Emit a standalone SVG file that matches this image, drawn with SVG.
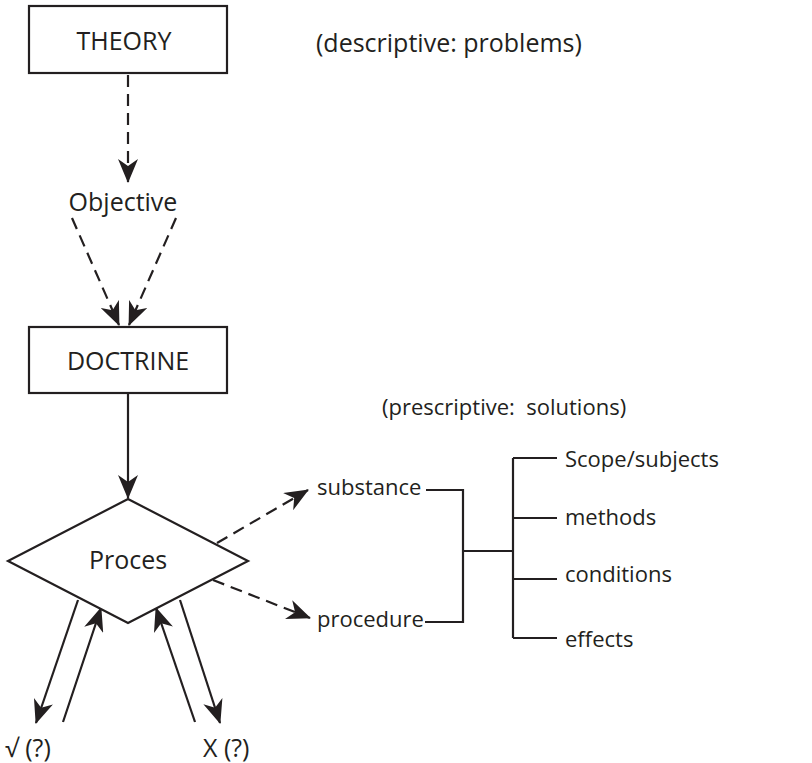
<svg xmlns="http://www.w3.org/2000/svg" width="812" height="763" viewBox="0 0 812 763">
<style>
text{font-family:"Open Sans","Noto Sans","DejaVu Sans",sans-serif;fill:#231f20;font-size:22px}
.big{font-size:25px}
.box{fill:#fff;stroke:#231f20;stroke-width:2.2}
.ln{fill:none;stroke:#231f20;stroke-width:2.2}
.dash{stroke-dasharray:12 7}
.arr{marker-end:url(#ah)}
</style>
<defs>
<marker id="ah" viewBox="0 0 24 20" refX="23" refY="10" markerWidth="24" markerHeight="20" markerUnits="userSpaceOnUse" orient="auto">
<path d="M0,0 L24,10 L0,20 L7,10 Z" fill="#231f20"/>
</marker>
</defs>
<rect width="812" height="763" fill="#fff"/>
<g id="connectors">
<line class="ln dash arr" x1="128" y1="75" x2="128" y2="182"/>
<line class="ln dash arr" x1="72" y1="218" x2="119" y2="325"/>
<line class="ln dash arr" x1="176" y1="218" x2="129" y2="325"/>
<line class="ln arr" x1="128" y1="393" x2="128" y2="498"/>
<line class="ln dash arr" x1="217" y1="543" x2="308" y2="490"/>
<line class="ln dash arr" x1="213" y1="580" x2="310" y2="618"/>
<line class="ln arr" x1="78" y1="600" x2="36" y2="723"/>
<line class="ln arr" x1="63" y1="722" x2="101" y2="608"/>
<line class="ln arr" x1="195" y1="722" x2="156" y2="608"/>
<line class="ln arr" x1="180" y1="600" x2="220" y2="723"/>
<polyline class="ln" points="426,490 463,490 463,622 425,622"/>
<line class="ln" x1="463" y1="551" x2="513" y2="551"/>
<line class="ln" x1="513" y1="458" x2="513" y2="638"/>
<line class="ln" x1="513" y1="458" x2="557" y2="458"/>
<line class="ln" x1="513" y1="518" x2="557" y2="518"/>
<line class="ln" x1="513" y1="579" x2="557" y2="579"/>
<line class="ln" x1="513" y1="638" x2="557" y2="638"/>
</g>
<g id="theory">
<rect class="box" x="29" y="6" width="198" height="67"/>
<text class="big" x="124" y="50" text-anchor="middle">THEORY</text>
</g>
<g id="descriptive">
<text class="big" x="316" y="52">(descriptive: problems)</text>
</g>
<g id="objective">
<text class="big" x="123" y="211" text-anchor="middle">Objective</text>
</g>
<g id="doctrine">
<rect class="box" x="29" y="327" width="198" height="66"/>
<text class="big" x="128" y="370" text-anchor="middle">DOCTRINE</text>
</g>
<g id="proces">
<polygon class="box" points="128,499 248,561 128,623 8,561"/>
<text class="big" x="128" y="569" text-anchor="middle">Proces</text>
</g>
<g id="prescriptive">
<text x="382" y="415" xml:space="preserve">(prescriptive:  solutions)</text>
</g>
<g id="substance"><text x="317" y="495">substance</text></g>
<g id="procedure"><text x="317" y="627">procedure</text></g>
<g id="scope"><text x="565" y="467">Scope/subjects</text></g>
<g id="methods"><text x="565" y="525">methods</text></g>
<g id="conditions"><text x="565" y="582">conditions</text></g>
<g id="effects"><text x="565" y="647">effects</text></g>
<g id="yes"><text class="big" x="5" y="757">√ (?)</text></g>
<g id="no"><text class="big" x="203" y="757">X (?)</text></g>
</svg>
